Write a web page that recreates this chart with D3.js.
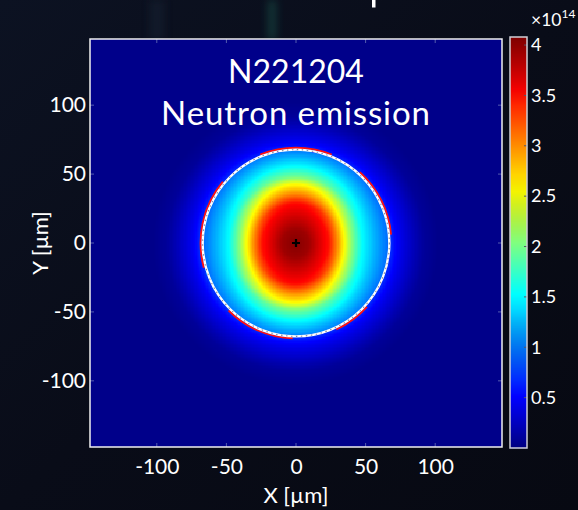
<!DOCTYPE html>
<html>
<head>
<meta charset="utf-8">
<script src="https://cdn.jsdelivr.net/npm/d3@7/dist/d3.min.js"></script>
<style>
  html, body { margin: 0; padding: 0; background: #0a0d19; }
  svg { display: block; }
  text { font-family: Lato, "Open Sans", sans-serif; fill: #ffffff; }
</style>
</head>
<body>
<script>
// ---- data (µm, values in units of 1e14) ----
const xTicks = [-100, -50, 0, 50, 100];
const yTicks = [-100, -50, 0, 50, 100];
const colorTicks = [0.5, 1, 1.5, 2, 2.5, 3, 3.5, 4];
const colorMax = 4.08;

// emission profile along the horizontal axis through the centre
const horizR   = [0, 10, 17, 24, 30, 35, 41, 48, 57, 65, 68];
const horizVal = [4.07, 3.95, 3.72, 3.5, 3.02, 2.55, 2.02, 1.53, 1.22, 0.98, 0.92];
// emission profile along the vertical axis through the centre
const vertR    = [0, 10, 20, 29, 36, 43, 48, 56, 63, 68];
const vertVal  = [4.07, 3.97, 3.75, 3.55, 3.02, 2.55, 2.02, 1.53, 1.2, 1.0];
// halo outside the capsule edge (distance beyond edge)
const haloD    = [0, 2, 5, 9, 14, 19, 25, 35];
const haloVal  = [0.72, 0.62, 0.5, 0.4, 0.3, 0.2, 0.1, 0.04];
const edgeRadius = 67.5;
// red contour segments on the edge ring (degrees, counter-clockwise from +x)
const redArcs = [[5, 48], [68, 112], [140, 195], [225, 268], [295, 318]];

const W = 578, H = 510;
const plot = { left: 90, right: 502, top: 39, bottom: 447 };
const cbar = { left: 510, right: 527, top: 37, bottom: 448 };

const svg = d3.select("body").append("svg").attr("width", W).attr("height", H);

// ---- background ----
const defs = svg.append("defs");
const bgGrad = defs.append("linearGradient").attr("id", "bg").attr("x1", 0).attr("y1", 0).attr("x2", 1).attr("y2", 1);
bgGrad.append("stop").attr("offset", 0).attr("stop-color", "#0c1222");
bgGrad.append("stop").attr("offset", 0.5).attr("stop-color", "#090c18");
bgGrad.append("stop").attr("offset", 1).attr("stop-color", "#070912");
svg.append("rect").attr("width", W).attr("height", H).attr("fill", "url(#bg)");
const blur = defs.append("filter").attr("id", "soft").attr("x", -1).attr("y", -1).attr("width", 3).attr("height", 3);
blur.append("feGaussianBlur").attr("stdDeviation", 4);
svg.append("rect").attr("x", 268).attr("y", 0).attr("width", 8).attr("height", 40)
  .attr("fill", "#1f6a5a").attr("opacity", 0.45).attr("filter", "url(#soft)");
svg.append("rect").attr("x", 150).attr("y", 0).attr("width", 14).attr("height", 40)
  .attr("fill", "#1a2a3a").attr("opacity", 0.4).attr("filter", "url(#soft)");
// stroke of the slide heading above, cut by the top edge
svg.append("rect").attr("x", 372).attr("y", 0).attr("width", 3.5).attr("height", 7.5).attr("fill", "#ffffff");

// ---- scales ----
const x = d3.scaleLinear().domain([-148, 148]).range([plot.left, plot.right]);
const y = d3.scaleLinear().domain([-148, 148]).range([plot.bottom, plot.top]);
const jet = d3.scaleLinear()
  .domain([0, 0.125, 0.375, 0.625, 0.875, 1].map(t => t * colorMax))
  .range(["#000080", "#0000ff", "#00ffff", "#ffff00", "#ff0000", "#800000"])
  .interpolate(d3.interpolateRgb).clamp(true);

const hProf = d3.scaleLinear().domain(horizR).range(horizVal).clamp(true);
const vProf = d3.scaleLinear().domain(vertR).range(vertVal).clamp(true);
const halo = d3.scaleLinear().domain(haloD).range(haloVal).clamp(true);

function emission(px, py) {
  const r = Math.hypot(px, py);
  if (r > edgeRadius) return halo(r - edgeRadius);
  const c2 = r === 0 ? 1 : (px * px) / (r * r);
  return c2 * hProf(r) + (1 - c2) * vProf(r);
}

// ---- heat map (rendered to a bitmap, placed in the svg) ----
const pw = plot.right - plot.left, ph = plot.bottom - plot.top;
const canvas = document.createElement("canvas");
canvas.width = pw; canvas.height = ph;
const ctx = canvas.getContext("2d");
for (let gx = -148; gx < 148; gx++) {
  for (let gy = -148; gy < 148; gy++) {
    const v = emission(gx + 0.5, gy + 0.5);
    ctx.fillStyle = jet(v);
    const x0 = x(gx) - plot.left, x1 = x(gx + 1) - plot.left;
    const y0 = y(gy + 1) - plot.top, y1 = y(gy) - plot.top;
    ctx.fillRect(Math.floor(x0), Math.floor(y0), Math.ceil(x1) - Math.floor(x0), Math.ceil(y1) - Math.floor(y0));
  }
}
svg.append("image").attr("x", plot.left).attr("y", plot.top)
  .attr("width", pw).attr("height", ph)
  .attr("href", canvas.toDataURL());

// ---- edge ring ----
const cx = x(0), cy = y(0);
const rPx = x(edgeRadius) - x(0);
const arc = d3.arc();
svg.append("g").attr("transform", `translate(${cx},${cy})`)
  .selectAll("path").data(redArcs).join("path")
  .attr("d", d => arc({ innerRadius: rPx + 0.4, outerRadius: rPx + 2.4,
      startAngle: (90 - d[1]) * Math.PI / 180, endAngle: (90 - d[0]) * Math.PI / 180 }))
  .attr("fill", "#ff1010");
svg.append("circle").attr("cx", cx).attr("cy", cy).attr("r", rPx - 0.6)
  .attr("fill", "none").attr("stroke", "#ffffff").attr("stroke-width", 2.4);
svg.append("circle").attr("cx", cx).attr("cy", cy).attr("r", rPx - 0.6)
  .attr("fill", "none").attr("stroke", "#8a8a9a").attr("stroke-width", 1.1)
  .attr("stroke-dasharray", "1.5 3.5");

// centre marker
svg.append("path")
  .attr("d", `M${cx - 4},${cy}H${cx + 4}M${cx},${cy - 4}V${cy + 4}`)
  .attr("stroke", "#000000").attr("stroke-width", 2.2);

// ---- plot frame, inner ticks ----
const tickCol = "#6a74b8";
const tk = svg.append("g").attr("stroke", tickCol).attr("stroke-width", 1).attr("opacity", 0.8);
xTicks.forEach(t => {
  tk.append("line").attr("x1", x(t)).attr("x2", x(t)).attr("y1", plot.bottom).attr("y2", plot.bottom - 4);
  tk.append("line").attr("x1", x(t)).attr("x2", x(t)).attr("y1", plot.top).attr("y2", plot.top + 4);
});
yTicks.forEach(t => {
  tk.append("line").attr("y1", y(t)).attr("y2", y(t)).attr("x1", plot.left).attr("x2", plot.left + 4);
  tk.append("line").attr("y1", y(t)).attr("y2", y(t)).attr("x1", plot.right).attr("x2", plot.right - 4);
});
svg.append("rect").attr("x", plot.left).attr("y", plot.top).attr("width", pw).attr("height", ph)
  .attr("fill", "none").attr("stroke", "#f0f0f0").attr("stroke-width", 1.5);

// ---- axes ----
const fmt = d => String(d);
const xAxis = svg.append("g").attr("transform", `translate(0,${plot.bottom})`)
  .call(d3.axisBottom(x).tickValues(xTicks).tickSize(0).tickPadding(12).tickFormat(fmt));
const yAxis = svg.append("g").attr("transform", `translate(${plot.left},0)`)
  .call(d3.axisLeft(y).tickValues(yTicks).tickSize(0).tickPadding(4).tickFormat(fmt));
[xAxis, yAxis].forEach(a => {
  a.select(".domain").remove();
  a.selectAll("text").attr("font-size", 21).attr("font-family", "Lato, sans-serif").attr("fill", "#ffffff");
});
xAxis.selectAll("text").attr("dy", "0.71em");

svg.append("text").attr("x", x(0)).attr("y", 503).attr("text-anchor", "middle")
  .attr("font-size", 22).text("X [µm]");
svg.append("text").attr("transform", `translate(48,${y(0)}) rotate(-90)`)
  .attr("text-anchor", "middle").attr("font-size", 22).text("Y [µm]");

// ---- title ----
svg.append("text").attr("x", x(0)).attr("y", 83).attr("text-anchor", "middle")
  .attr("font-size", 32).text("N221204");
svg.append("text").attr("x", x(0)).attr("y", 125).attr("text-anchor", "middle")
  .attr("font-size", 33).attr("letter-spacing", 0.9).text("Neutron emission");

// ---- colour bar ----
const cs = d3.scaleLinear().domain([0, colorMax]).range([cbar.bottom, cbar.top]);
const steps = d3.range(0, colorMax, 0.01);
svg.append("g").selectAll("rect").data(steps).join("rect")
  .attr("x", cbar.left).attr("width", cbar.right - cbar.left)
  .attr("y", d => cs(Math.min(d + 0.01, colorMax)))
  .attr("height", d => cs(d) - cs(Math.min(d + 0.01, colorMax)) + 0.5)
  .attr("fill", d => jet(d + 0.005));
const ct = svg.append("g");
colorTicks.forEach(t => {
  ct.append("line").attr("x1", cbar.right - 3).attr("x2", cbar.right).attr("y1", cs(t)).attr("y2", cs(t))
    .attr("stroke", "#555566").attr("stroke-width", 1);
  ct.append("text").attr("x", cbar.right + 4).attr("y", cs(t)).attr("dy", "0.35em")
    .attr("font-size", 18).text(String(t));
});
svg.append("rect").attr("x", cbar.left).attr("y", cbar.top)
  .attr("width", cbar.right - cbar.left).attr("height", cbar.bottom - cbar.top)
  .attr("fill", "none").attr("stroke", "#cfcfd6").attr("stroke-width", 1.5);
const mult = svg.append("text").attr("x", 531).attr("y", 26).attr("font-size", 17.5);
mult.append("tspan").text("×10");
mult.append("tspan").attr("font-size", 12).attr("dy", -8).text("14");
</script>
</body>
</html>
